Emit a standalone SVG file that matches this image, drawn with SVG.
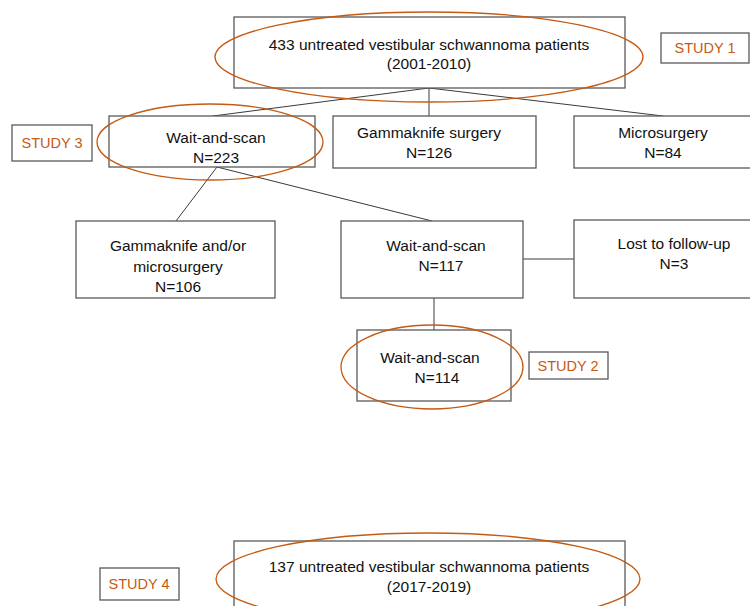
<svg xmlns="http://www.w3.org/2000/svg" width="750" height="606" viewBox="0 0 750 606">
<style>
.box{fill:#fff;stroke:#595959;stroke-width:1.3}
.conn line{stroke:#3a3a3a;stroke-width:1}
.ell{fill:none;stroke:#C55A11;stroke-width:1.3}
.t{font-family:"Liberation Sans",Arial,sans-serif;font-size:15.5px;fill:#111;text-anchor:middle}
.s{font-family:"Liberation Sans",Arial,sans-serif;font-size:14.5px;fill:#C55A11;text-anchor:middle}
</style>
<rect width="750" height="606" fill="#fff"/>
<g id="connectors" class="conn">
<line x1="429" y1="88" x2="213" y2="116"/>
<line x1="429" y1="88" x2="429" y2="116"/>
<line x1="429" y1="88" x2="663" y2="116"/>
<line x1="217" y1="167" x2="176" y2="221"/>
<line x1="217" y1="167" x2="432" y2="221"/>
<line x1="523" y1="259" x2="574" y2="259"/>
<line x1="434" y1="298" x2="434" y2="330"/>
</g>
<g id="n-total">
<rect class="box" x="234" y="17" width="391" height="71"/>
<text class="t" x="429" y="50">433 untreated vestibular schwannoma patients</text>
<text class="t" x="429" y="69">(2001-2010)</text>
</g>
<g id="n-wait1">
<rect class="box" x="109" y="116" width="206" height="51"/>
<text class="t" x="216" y="143">Wait-and-scan</text>
<text class="t" x="216" y="163">N=223</text>
</g>
<g id="n-gk">
<rect class="box" x="333" y="116" width="203" height="52"/>
<text class="t" x="429" y="138">Gammaknife surgery</text>
<text class="t" x="429" y="158">N=126</text>
</g>
<g id="n-micro">
<rect class="box" x="574" y="116" width="185" height="52"/>
<text class="t" x="663" y="138">Microsurgery</text>
<text class="t" x="663" y="158">N=84</text>
</g>
<g id="n-gkmicro">
<rect class="box" x="76" y="221" width="199" height="77"/>
<text class="t" x="178" y="251">Gammaknife and/or</text>
<text class="t" x="178" y="272">microsurgery</text>
<text class="t" x="178" y="292">N=106</text>
</g>
<g id="n-wait2">
<rect class="box" x="341" y="221" width="182" height="77"/>
<text class="t" x="436" y="251">Wait-and-scan</text>
<text class="t" x="441" y="271">N=117</text>
</g>
<g id="n-lost">
<rect class="box" x="574" y="220" width="185" height="78"/>
<text class="t" x="674" y="249">Lost to follow-up</text>
<text class="t" x="674" y="269">N=3</text>
</g>
<g id="n-wait3">
<rect class="box" x="357" y="330" width="154" height="71"/>
<text class="t" x="430" y="363">Wait-and-scan</text>
<text class="t" x="437" y="383">N=114</text>
</g>
<g id="n-total2">
<rect class="box" x="234" y="541" width="391" height="80"/>
<text class="t" x="429" y="572">137 untreated vestibular schwannoma patients</text>
<text class="t" x="429" y="592">(2017-2019)</text>
</g>
<g id="ellipses">
<ellipse class="ell" cx="429" cy="57" rx="214" ry="45"/>
<ellipse class="ell" cx="210" cy="142" rx="113" ry="38"/>
<ellipse class="ell" cx="432" cy="367" rx="91" ry="42"/>
<ellipse class="ell" cx="428" cy="579" rx="212" ry="46"/>
</g>
<g id="study1">
<rect class="box" x="661" y="33" width="88" height="30"/>
<text class="s" x="705" y="53">STUDY 1</text>
</g>
<g id="study2">
<rect class="box" x="529" y="352" width="79" height="27"/>
<text class="s" x="568" y="371">STUDY 2</text>
</g>
<g id="study3">
<rect class="box" x="12" y="125" width="80" height="36"/>
<text class="s" x="52" y="148">STUDY 3</text>
</g>
<g id="study4">
<rect class="box" x="100" y="568" width="79" height="32"/>
<text class="s" x="139" y="589">STUDY 4</text>
</g>
</svg>
